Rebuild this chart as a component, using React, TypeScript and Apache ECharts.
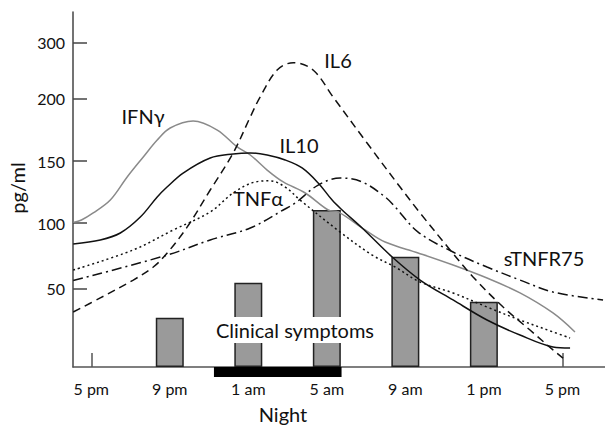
import React, { useEffect, useRef } from "react";
import * as echarts from "echarts";

// Hours after 5 pm (x) and pg/ml (y)
const xTickHours = [0, 4, 8, 12, 16, 20, 24];
const xTickLabels = ["5 pm", "9 pm", "1 am", "5 am", "9 am", "1 pm", "5 pm"];
const xEdgeTicks = [0, 24];

const yTickLabels = [50, 100, 150, 200, 300];
// non-linear (schematic) vertical scale of the original: pg/ml anchors -> axis units
const yScaleValues = [0, 50, 100, 150, 200, 300];
const yScaleUnits = [0, 78.3, 144, 206, 268.7, 324.3];

const symptomHours = [4, 8, 12, 16, 20];
const symptomValues = [31.5, 54.6, 110.5, 74.4, 41.7];

const nightStart = 6.25;
const nightEnd = 12.75;

const ifnGamma = [
  [-0.92, 100.5], [-0.5, 102.4], [0.1, 108.1], [0.97, 118.5], [1.83, 137.1], [2.65, 153.2],
  [3.36, 166.7], [4.02, 176.3], [5.19, 181.9], [6.42, 174.7], [7.43, 161.2], [8.1, 154.8],
  [8.96, 142.7], [9.78, 133.1], [10.9, 124.2], [12.07, 110.5], [12.58, 108.9], [13.95, 94.7],
  [14.97, 85.5], [16.65, 77.2], [18.43, 68.0], [20.16, 58.1], [21.84, 47.3], [23.52, 34.5],
  [24.64, 22.4],
];
const il10 = [
  [-0.92, 84.0], [0.46, 87.1], [1.48, 92.4], [2.5, 104.8], [3.36, 121.0], [3.86, 129.0],
  [4.68, 140.3], [6.06, 152.4], [7.23, 155.6], [8.1, 156.4], [8.96, 154.8], [9.88, 150.8],
  [10.74, 144.4], [11.56, 132.3], [12.27, 118.5], [12.78, 110.5], [13.8, 96.2], [15.33, 74.1],
  [16.75, 56.6], [18.43, 42.8], [20.16, 30.0], [21.84, 20.4], [23.52, 12.8], [24.39, 12.1],
];
const tnfAlpha = [
  [-0.92, 64.2], [2.14, 79.5], [4.18, 94.7], [6.06, 108.9], [7.23, 124.2],
  [8.35, 133.1], [9.11, 134.0], [9.88, 129.0], [10.64, 118.5], [12.68, 93.1], [14.31, 75.6],
  [15.48, 66.5], [16.75, 55.1], [18.43, 47.3], [20.16, 38.3], [21.84, 30.0], [23.52, 22.4],
  [24.39, 18.5],
];
const stnfr75 = [
  [-0.92, 56.2], [3.87, 75.6], [6.06, 87.1], [8.1, 96.2], [9.78, 110.5],
  [10.39, 116.1], [11.56, 130.6], [12.68, 136.3], [13.8, 133.1], [14.97, 121.0], [15.48, 112.9],
  [16.65, 93.1], [18.43, 77.9], [20.16, 66.5], [21.84, 56.6], [23.52, 47.9], [26.07, 42.8],
];
const il6 = [
  [-0.92, 35.1], [0.46, 44.1], [2.14, 56.6], [3.16, 66.5], [3.87, 77.2], [4.89, 97.0],
  [6.06, 126.6], [7.23, 156.4], [8.1, 185.1], [8.6, 202.3], [9.47, 250.9], [10.29, 264.0],
  [11.3, 250.9], [12.32, 202.3], [14.05, 164.3], [15.73, 129.0], [16.75, 108.1], [18.28, 79.5],
  [19.45, 58.9], [20.98, 38.3], [22.35, 23.6], [23.52, 10.9], [24.03, 5.7],
];

function warp(v: number): number {
  const V = yScaleValues, P = yScaleUnits;
  for (let i = 1; i < V.length; i++) {
    if (v <= V[i] || i === V.length - 1) {
      return P[i - 1] + ((v - V[i - 1]) * (P[i] - P[i - 1])) / (V[i] - V[i - 1]);
    }
  }
  return v;
}

const FONT = "Lato, 'DejaVu Sans', sans-serif";

export default function App() {
  const ref = useRef<HTMLDivElement>(null);
  useEffect(() => {
    if (!ref.current) return;
    const chart = echarts.init(ref.current, null, { renderer: "svg" });
    const yTickPos = yTickLabels.map(warp);
    const lineSeries = (name: string, data: number[][], color: string, type: any) => ({
      name,
      type: "line",
      data: data.map(([h, v]) => [h, warp(v)]),
      smooth: 0.35,
      symbol: "none",
      lineStyle: { color, width: 1.5, type },
      z: 5,
    });
    const label = (text: string, x: number, y: number, fontSize = 20, extra: any = {}) => ({
      type: "text", x, y, z: 100,
      style: { text, fontSize, fontFamily: FONT, fill: "#111", align: "center", verticalAlign: "middle", ...extra },
    });
    chart.setOption({
      animation: false,
      grid: { left: 73, right: 0, top: 12, bottom: 60 },
      xAxis: {
        type: "value",
        min: -0.93,
        max: 26.17,
        axisLine: { show: true, onZero: false, lineStyle: { color: "#555", width: 1.5 } },
        axisTick: { show: true, inside: true, length: 14, customValues: xEdgeTicks, lineStyle: { color: "#555", width: 1.5 } },
        axisLabel: {
          customValues: xTickHours,
          formatter: (val: number) => {
            const i = xTickHours.findIndex((h) => Math.abs(h - val) < 0.01);
            return i >= 0 ? xTickLabels[i] : "";
          },
          margin: 13,
          color: "#111",
          fontSize: 16,
          fontFamily: FONT,
        },
        splitLine: { show: false },
      },
      yAxis: {
        type: "value",
        min: 0,
        max: 355,
        axisLine: { show: true, onZero: false, lineStyle: { color: "#444", width: 1.5 } },
        axisTick: { show: true, inside: true, length: 14, customValues: yTickPos, lineStyle: { color: "#444", width: 1.5 } },
        axisLabel: {
          customValues: yTickPos,
          formatter: (val: number) => {
            const i = yTickPos.findIndex((p) => Math.abs(p - val) < 0.01);
            return i >= 0 ? String(yTickLabels[i]) : "";
          },
          margin: 8,
          color: "#111",
          fontSize: 16,
          fontFamily: FONT,
        },
        splitLine: { show: false },
      },
      series: [
        {
          name: "Clinical symptoms",
          type: "bar",
          data: symptomHours.map((h, i) => [h, warp(symptomValues[i])]),
          barWidth: 28,
          itemStyle: { color: "#9a9a9a", borderColor: "#222", borderWidth: 1.5 },
          z: 2,
        },
        lineSeries("IFNγ", ifnGamma, "#8a8a8a", "solid"),
        lineSeries("IL10", il10, "#111", "solid"),
        lineSeries("TNFα", tnfAlpha, "#111", [2, 3]),
        lineSeries("sTNFR75", stnfr75, "#111", [10, 4, 2, 4]),
        lineSeries("IL6", il6, "#111", [8, 5]),
        {
          name: "Night",
          type: "custom",
          clip: false,
          data: [[nightStart, nightEnd]],
          renderItem: (params: any, api: any) => {
            const a = api.coord([api.value(0), 0]);
            const b = api.coord([api.value(1), 0]);
            return {
              type: "rect",
              shape: { x: a[0], y: a[1], width: b[0] - a[0], height: 10 },
              style: { fill: "#000" },
            };
          },
          z: 6,
        },
      ],
      graphic: [
        { ...label("pg/ml", 17, 188, 20), rotation: Math.PI / 2 },
        label("IFNγ", 143, 116),
        label("IL6", 338, 60),
        label("IL10", 299, 145),
        label("TNFα", 258, 198),
        label("sTNFR75", 544, 258),
        label("Clinical symptoms", 295, 330, 20, { backgroundColor: "#fff", padding: [3, 2] }),
        label("Night", 283, 414, 20),
      ],
    });
    return () => chart.dispose();
  }, []);
  return <div ref={ref} style={{ width: 605, height: 427, position: "absolute", left: 0, top: 0 }} />;
}
